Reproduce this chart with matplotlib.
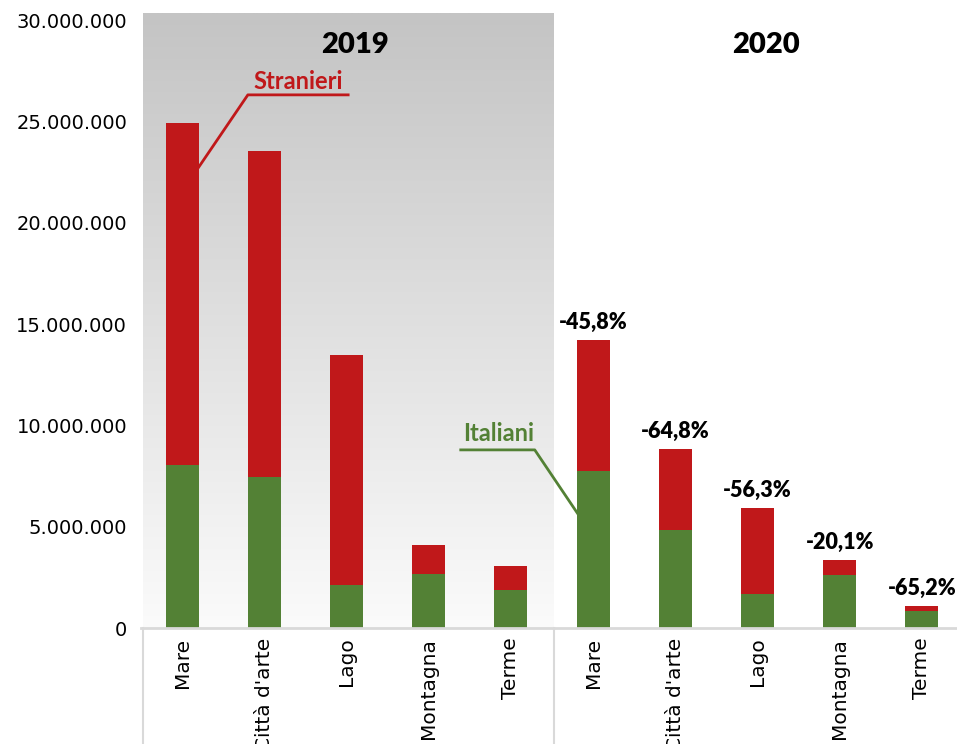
import numpy as np
import matplotlib
matplotlib.use("Agg")
import matplotlib.pyplot as plt
from matplotlib.ticker import FuncFormatter
from matplotlib.transforms import blended_transform_factory

categorie = ["Mare", "Città d'arte", "Lago", "Montagna", "Terme",
             "Mare", "Città d'arte", "Lago", "Montagna", "Terme"]
italiani = [8050000, 7450000, 2130000, 2680000, 1890000,
            7750000, 4840000, 1680000, 2620000, 840000]
stranieri = [16880000, 16090000, 11350000, 1420000, 1180000,
             6470000, 4000000, 4240000, 740000, 250000]
variazioni = ["-45,8%", "-64,8%", "-56,3%", "-20,1%", "-65,2%"]
anni = ["2019", "2020"]

verde = "#538135"
rosso = "#C0181A"

fig = plt.figure(figsize=(9.57, 7.44), dpi=100)
# axes runs a little past the right edge like the original
ax = fig.add_axes([141 / 957, 116 / 744, 822 / 957, 615 / 744])

x = np.arange(len(categorie))
ax.set_xlim(-0.5, 9.5)
ax.set_ylim(0, 30350000)

# grey gradient behind the 2019 group
grad = np.linspace(0, 1, 256).reshape(-1, 1)
ax.imshow(grad, cmap=plt.matplotlib.colors.LinearSegmentedColormap.from_list(
    "g", ["#fbfbfb", "#c4c4c4"]), origin="lower", aspect="auto",
    extent=(-0.47, 4.53, 0, 30350000), zorder=0)

ax.bar(x, italiani, width=0.4, color=verde, zorder=2)
ax.bar(x, stranieri, width=0.4, bottom=italiani, color=rosso, zorder=2)

# percentage labels over 2020 bars
for i, lab in enumerate(variazioni):
    j = i + 5
    ax.annotate(lab, (x[j], italiani[j] + stranieri[j]), xytext=(0, 5),
                textcoords="offset points", ha="center", va="bottom",
                fontsize=15.5, fontweight="heavy", family="Lato", color="black",
                annotation_clip=False)

# year headers
ax.text(2.1, 28780000, anni[0], ha="center", va="center", fontsize=21,
        fontweight="heavy", family="Lato")
ax.text(7.1, 28780000, anni[1], ha="center", va="center", fontsize=21,
        fontweight="heavy", family="Lato")

# series callouts
ax.text(1.41, 26950000, "Stranieri", ha="center", va="center", fontsize=17,
        fontweight="bold", family="Lato", color=rosso)
ax.plot([2.02, 0.80, 0.195], [26310000, 26310000, 22700000], color=rosso, lw=2, zorder=3)
ax.text(3.85, 9580000, "Italiani", ha="center", va="center", fontsize=17,
        fontweight="bold", family="Lato", color=verde)
ax.plot([3.39, 4.29, 4.84], [8790000, 8790000, 5480000], color=verde, lw=2, zorder=3)

# axes styling
for s in ["top", "right", "left"]:
    ax.spines[s].set_visible(False)
ax.spines["bottom"].set_color("#d9d9d9")
ax.spines["bottom"].set_linewidth(2)

ax.set_yticks(np.arange(0, 30000001, 5000000))
ax.yaxis.set_major_formatter(FuncFormatter(lambda v, p: f"{int(v):,}".replace(",", ".")))
ax.tick_params(axis="y", length=0, pad=10, labelsize=14)
ax.set_xticks(x)
ax.set_xticklabels(categorie, rotation=90, fontsize=14.5)
ax.tick_params(axis="x", length=0, pad=7)

# group separators under the axis
tr = blended_transform_factory(ax.transData, ax.transAxes)
for xs in [-0.47, 4.53]:
    ax.plot([xs, xs], [0, -0.25], color="#d9d9d9", lw=1.5, transform=tr, clip_on=False)

fig.savefig("out.png", dpi=100)
